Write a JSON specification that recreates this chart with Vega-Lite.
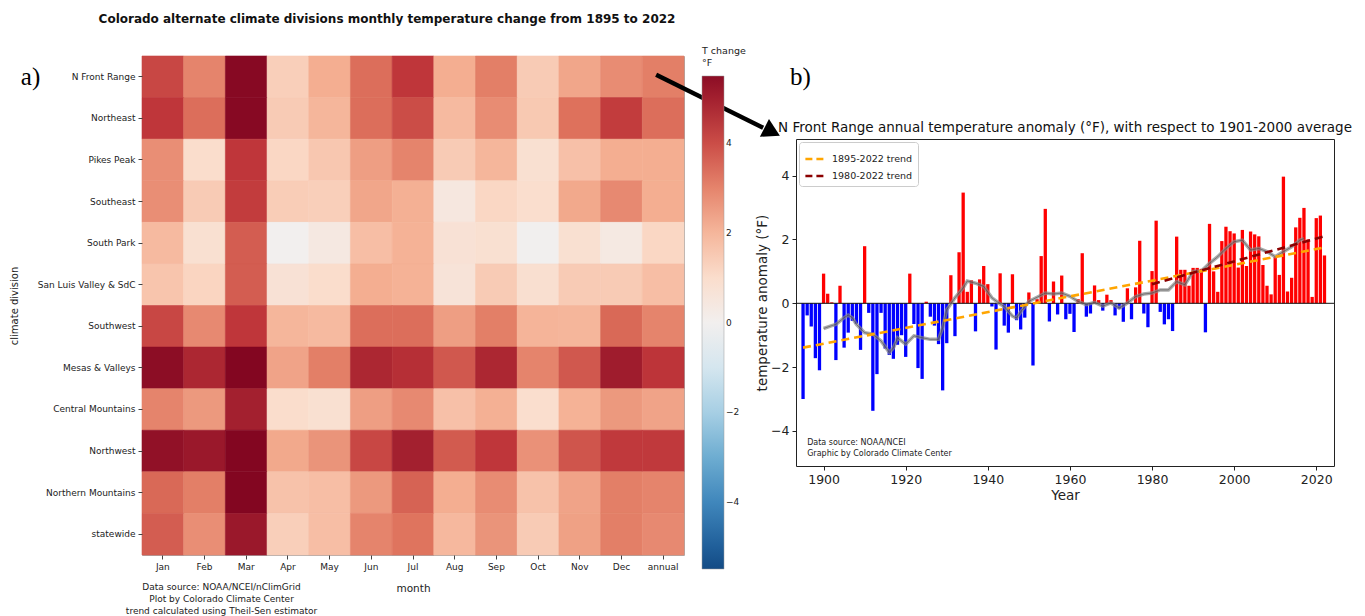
{
"$schema": "https://vega.github.io/schema/vega-lite/v6.json",
"padding": {"left": 8, "top": 12, "right": 0, "bottom": 0},
"background": "white",
"config": {"font": "DejaVu Sans", "view": {"stroke": "#222"}, "axis": {"grid": false, "labelColor": "#222", "titleColor": "#222", "titleFontWeight": "normal", "tickColor": "#444"}, "title": {"color": "#111"}},
"datasets": {
"heat": [
{"division":"N Front Range","Jan":4.1,"Feb":3.0,"Mar":5.6,"Apr":1.4,"May":2.2,"Jun":3.4,"Jul":4.4,"Aug":2.2,"Sep":3.1,"Oct":1.5,"Nov":2.35,"Dec":2.85,"annual":3.1},
{"division":"Northeast","Jan":4.4,"Feb":3.4,"Mar":5.6,"Apr":1.5,"May":2.0,"Jun":3.4,"Jul":4.0,"Aug":1.9,"Sep":2.85,"Oct":1.55,"Nov":3.35,"Dec":4.3,"annual":3.4},
{"division":"Pikes Peak","Jan":2.8,"Feb":1.0,"Mar":4.4,"Apr":1.2,"May":1.6,"Jun":2.5,"Jul":3.0,"Aug":1.5,"Sep":2.0,"Oct":0.85,"Nov":1.75,"Dec":2.2,"annual":2.2},
{"division":"Southeast","Jan":2.8,"Feb":1.5,"Mar":4.3,"Apr":1.45,"May":1.4,"Jun":2.35,"Jul":2.15,"Aug":0.45,"Sep":1.2,"Oct":0.95,"Nov":2.3,"Dec":2.9,"annual":2.2},
{"division":"South Park","Jan":1.9,"Feb":0.85,"Mar":3.7,"Apr":0.0,"May":0.4,"Jun":1.8,"Jul":2.1,"Aug":0.75,"Sep":0.85,"Oct":-0.05,"Nov":0.85,"Dec":0.35,"annual":1.2},
{"division":"San Luis Valley & SdC","Jan":1.65,"Feb":1.25,"Mar":3.7,"Apr":0.75,"May":1.0,"Jun":2.2,"Jul":2.1,"Aug":0.65,"Sep":1.5,"Oct":0.9,"Nov":1.5,"Dec":1.5,"annual":1.8},
{"division":"Southwest","Jan":4.1,"Feb":2.9,"Mar":4.4,"Apr":2.0,"May":1.9,"Jun":3.4,"Jul":3.4,"Aug":2.5,"Sep":3.1,"Oct":2.05,"Nov":2.0,"Dec":3.5,"annual":3.0},
{"division":"Mesas & Valleys","Jan":5.5,"Feb":4.8,"Mar":5.7,"Apr":2.4,"May":3.1,"Jun":4.8,"Jul":4.6,"Aug":3.8,"Sep":4.8,"Oct":3.0,"Nov":3.8,"Dec":5.1,"annual":4.45},
{"division":"Central Mountains","Jan":3.0,"Feb":2.6,"Mar":5.0,"Apr":1.0,"May":0.85,"Jun":2.5,"Jul":2.9,"Aug":1.75,"Sep":2.15,"Oct":0.95,"Nov":2.1,"Dec":2.6,"annual":2.4},
{"division":"Northwest","Jan":5.4,"Feb":5.2,"Mar":5.7,"Apr":2.3,"May":2.7,"Jun":4.1,"Jul":5.0,"Aug":3.75,"Sep":4.4,"Oct":2.75,"Nov":3.85,"Dec":4.35,"annual":4.35},
{"division":"Northern Mountains","Jan":3.5,"Feb":3.1,"Mar":5.7,"Apr":1.7,"May":1.8,"Jun":2.6,"Jul":3.6,"Aug":2.2,"Sep":2.85,"Oct":1.7,"Nov":2.4,"Dec":3.1,"annual":3.0},
{"division":"statewide","Jan":3.7,"Feb":2.8,"Mar":5.2,"Apr":1.4,"May":1.8,"Jun":3.0,"Jul":3.3,"Aug":1.95,"Sep":2.7,"Oct":1.5,"Nov":2.45,"Dec":3.1,"annual":2.9}
],
"anom": [
{"year":1895,"v":-3.0},{"year":1896,"v":-0.38},{"year":1897,"v":-0.73},{"year":1898,"v":-1.72},{"year":1899,"v":-2.1},
{"year":1900,"v":0.93},{"year":1901,"v":0.3},{"year":1902,"v":0.03},{"year":1903,"v":-1.78},{"year":1904,"v":0.55},
{"year":1905,"v":-1.39},{"year":1906,"v":-0.92},{"year":1907,"v":-0.55},{"year":1908,"v":-0.64},{"year":1909,"v":-1.46},
{"year":1910,"v":1.79},{"year":1911,"v":-0.3},{"year":1912,"v":-3.37},{"year":1913,"v":-2.22},{"year":1914,"v":-0.3},
{"year":1915,"v":-1.42},{"year":1916,"v":-1.62},{"year":1917,"v":-1.74},{"year":1918,"v":-1.3},{"year":1919,"v":-1.0},
{"year":1920,"v":-1.68},{"year":1921,"v":0.93},{"year":1922,"v":-0.65},{"year":1923,"v":-2.03},{"year":1924,"v":-2.37},
{"year":1925,"v":0.05},{"year":1926,"v":-0.42},{"year":1927,"v":-0.7},{"year":1928,"v":-1.28},{"year":1929,"v":-2.73},
{"year":1930,"v":-1.25},{"year":1931,"v":0.88},{"year":1932,"v":-1.03},{"year":1933,"v":1.6},{"year":1934,"v":3.47},
{"year":1935,"v":0.36},{"year":1936,"v":0.72},{"year":1937,"v":-0.88},{"year":1938,"v":0.75},{"year":1939,"v":1.17},
{"year":1940,"v":0.6},{"year":1941,"v":-0.1},{"year":1942,"v":-1.45},{"year":1943,"v":0.94},{"year":1944,"v":-0.7},
{"year":1945,"v":-0.92},{"year":1946,"v":0.91},{"year":1947,"v":-0.53},{"year":1948,"v":-0.82},{"year":1949,"v":-0.45},
{"year":1950,"v":0.34},{"year":1951,"v":-1.95},{"year":1952,"v":0.13},{"year":1953,"v":1.48},{"year":1954,"v":2.96},
{"year":1955,"v":-0.57},{"year":1956,"v":0.68},{"year":1957,"v":-0.35},{"year":1958,"v":0.87},{"year":1959,"v":-0.5},
{"year":1960,"v":-0.33},{"year":1961,"v":-0.9},{"year":1962,"v":0.13},{"year":1963,"v":1.57},{"year":1964,"v":-0.42},
{"year":1965,"v":-0.32},{"year":1966,"v":0.56},{"year":1967,"v":0.1},{"year":1968,"v":-0.23},{"year":1969,"v":0.27},
{"year":1970,"v":0.1},{"year":1971,"v":-0.38},{"year":1972,"v":-0.17},{"year":1973,"v":-0.58},{"year":1974,"v":0.47},
{"year":1975,"v":-0.5},{"year":1976,"v":0.5},{"year":1977,"v":1.96},{"year":1978,"v":-0.32},{"year":1979,"v":-0.75},
{"year":1980,"v":1.01},{"year":1981,"v":2.59},{"year":1982,"v":-0.27},{"year":1983,"v":-0.66},{"year":1984,"v":-0.5},
{"year":1985,"v":-0.87},{"year":1986,"v":2.09},{"year":1987,"v":1.05},{"year":1988,"v":1.05},{"year":1989,"v":0.55},
{"year":1990,"v":1.11},{"year":1991,"v":1.11},{"year":1992,"v":1.08},{"year":1993,"v":-0.91},{"year":1994,"v":2.49},
{"year":1995,"v":1.0},{"year":1996,"v":0.36},{"year":1997,"v":1.95},{"year":1998,"v":2.4},{"year":1999,"v":2.26},
{"year":2000,"v":2.19},{"year":2001,"v":1.12},{"year":2002,"v":2.3},{"year":2003,"v":1.17},{"year":2004,"v":2.25},
{"year":2005,"v":2.16},{"year":2006,"v":2.1},{"year":2007,"v":1.2},{"year":2008,"v":0.55},{"year":2009,"v":0.28},
{"year":2010,"v":1.45},{"year":2011,"v":0.89},{"year":2012,"v":3.97},{"year":2013,"v":0.37},{"year":2014,"v":0.8},
{"year":2015,"v":2.38},{"year":2016,"v":2.68},{"year":2017,"v":2.99},{"year":2018,"v":2.0},{"year":2019,"v":0.2},
{"year":2020,"v":2.67},{"year":2021,"v":2.75},{"year":2022,"v":1.5}
],
"smooth": [
{"year":1900,"v":-0.79},{"year":1902,"v":-0.7},{"year":1903,"v":-0.66},{"year":1905,"v":-0.45},{"year":1906,"v":-0.37},
{"year":1907,"v":-0.45},{"year":1908,"v":-0.66},{"year":1910,"v":-0.92},{"year":1912,"v":-0.97},{"year":1914,"v":-1.18},
{"year":1916,"v":-1.54},{"year":1917,"v":-1.4},{"year":1918,"v":-1.08},{"year":1920,"v":-1.28},{"year":1922,"v":-1.02},
{"year":1924,"v":-1.08},{"year":1926,"v":-1.13},{"year":1928,"v":-1.13},{"year":1929,"v":-0.77},{"year":1930,"v":-0.2},
{"year":1932,"v":0.17},{"year":1934,"v":0.48},{"year":1935,"v":0.7},{"year":1937,"v":0.63},{"year":1939,"v":0.53},
{"year":1941,"v":0.17},{"year":1943,"v":-0.02},{"year":1944,"v":-0.1},{"year":1946,"v":-0.4},{"year":1947,"v":-0.46},
{"year":1948,"v":-0.27},{"year":1950,"v":0.06},{"year":1952,"v":0.19},{"year":1954,"v":0.32},{"year":1956,"v":0.29},
{"year":1958,"v":0.32},{"year":1960,"v":0.22},{"year":1962,"v":0.06},{"year":1964,"v":-0.04},{"year":1966,"v":0.03},
{"year":1968,"v":-0.09},{"year":1970,"v":0.01},{"year":1972,"v":-0.15},{"year":1974,"v":0.01},{"year":1976,"v":0.21},
{"year":1978,"v":0.29},{"year":1980,"v":0.32},{"year":1982,"v":0.42},{"year":1984,"v":0.42},{"year":1986,"v":0.68},
{"year":1988,"v":0.58},{"year":1990,"v":1.0},{"year":1992,"v":1.01},{"year":1994,"v":1.25},{"year":1996,"v":1.46},
{"year":1998,"v":1.72},{"year":2000,"v":1.93},{"year":2002,"v":1.98},{"year":2004,"v":1.67},{"year":2006,"v":1.72},
{"year":2008,"v":1.62},{"year":2010,"v":1.46},{"year":2012,"v":1.62},{"year":2014,"v":1.77},{"year":2016,"v":1.98},
{"year":2017,"v":2.03}
],
"trend": [
{"series":"1895-2022 trend","year":1895,"v":-1.39},{"series":"1895-2022 trend","year":2022,"v":1.75},
{"series":"1980-2022 trend","year":1980,"v":0.6},{"series":"1980-2022 trend","year":2022,"v":2.1}
]
},
"spacing": 112,
"bounds": "flush",
"resolve": {"scale": {"color": "independent"}, "legend": {"color": "independent"}},
"hconcat": [
{
"width": 542, "height": 499,
"title": {"text": "Colorado alternate climate divisions monthly temperature change from 1895 to 2022", "fontSize": 12, "fontWeight": "bold", "offset": 20, "dx": -26, "anchor": "middle"},
"view": {"stroke": "#aaa"},
"layer": [
{"data": {"name": "heat"},
"transform": [{"fold": ["Jan","Feb","Mar","Apr","May","Jun","Jul","Aug","Sep","Oct","Nov","Dec","annual"], "as": ["month","change"]}],
"mark": {"type": "rect", "strokeWidth": 0.6},
"encoding": {
"x": {"field": "month", "type": "nominal", "scale": {"domain": ["Jan","Feb","Mar","Apr","May","Jun","Jul","Aug","Sep","Oct","Nov","Dec","annual"], "paddingInner": 0, "paddingOuter": 0}, "axis": {"title": "month", "labelAngle": 0, "labelFontSize": 9, "titleFontSize": 10.5, "tickSize": 4, "domain": false, "labelPadding": 3, "titlePadding": 12}},
"y": {"field": "division", "type": "nominal", "scale": {"domain": ["N Front Range","Northeast","Pikes Peak","Southeast","South Park","San Luis Valley & SdC","Southwest","Mesas & Valleys","Central Mountains","Northwest","Northern Mountains","statewide"], "paddingInner": 0, "paddingOuter": 0}, "axis": {"title": "climate division", "labelFontSize": 9, "titleFontSize": 10, "tickSize": 4, "domain": false, "labelPadding": 3, "titlePadding": 18}},
"color": {"field": "change", "type": "quantitative", "scale": {"scheme": "redblue", "reverse": true, "domain": [-5.5, 5.5]}, "legend": {"orient": "none", "legendX": 560, "legendY": -10, "title": ["T change", "°F"], "titleFontSize": 9.5, "titleFontWeight": "normal", "titleColor": "#222", "titlePadding": 9, "gradientLength": 493, "gradientThickness": 22, "values": [-4, -2, 0, 2, 4], "format": "d", "labelFontSize": 9, "labelColor": "#222", "direction": "vertical", "gradientStrokeColor": "#999", "gradientStrokeWidth": 0.5}},
"stroke": {"field": "change", "type": "quantitative", "scale": {"scheme": "redblue", "reverse": true, "domain": [-5.5, 5.5]}, "legend": null}
}},
{"data": {"values": [{"division": "N Front Range", "month": "Jan", "label": "a)"}]},
"mark": {"type": "text", "align": "left", "baseline": "middle", "font": "Liberation Serif", "fontSize": 25, "dx": -142, "color": "#000"},
"encoding": {"x": {"field": "month", "type": "nominal"}, "y": {"field": "division", "type": "nominal"}, "text": {"field": "label"}}},
{"data": {"values": [{"division": "statewide", "month": "Feb", "label": ["Data source: NOAA/NCEI/nClimGrid", "Plot by Colorado Climate Center", "trend calculated using Theil-Sen estimator"]}]},
"mark": {"type": "text", "align": "center", "baseline": "top", "fontSize": 9, "lineHeight": 12, "dx": 17, "dy": 49, "color": "#222"},
"encoding": {"x": {"field": "month", "type": "nominal"}, "y": {"field": "division", "type": "nominal"}, "text": {"field": "label"}}},
{"data": {"values": [{"division": "N Front Range", "month": "annual"}]},
"mark": {"type": "rule", "color": "#000", "strokeWidth": 4.5, "xOffset": -7, "yOffset": -2, "x2Offset": 100, "y2Offset": 51},
"encoding": {"x": {"field": "month", "type": "nominal"}, "y": {"field": "division", "type": "nominal"}, "x2": {"field": "month"}, "y2": {"field": "division"}}},
{"data": {"values": [{"division": "N Front Range", "month": "annual"}]},
"mark": {"type": "point", "shape": "triangle-right", "filled": true, "color": "#000", "opacity": 1, "size": 400, "angle": 27, "xOffset": 109, "yOffset": 55},
"encoding": {"x": {"field": "month", "type": "nominal"}, "y": {"field": "division", "type": "nominal"}}}
]
},
{
"spacing": 20,
"bounds": "flush",
"resolve": {"scale": {"color": "independent"}, "legend": {"color": "independent"}},
"vconcat": [
{"width": 538, "height": 63, "view": {"stroke": null},
"data": {"values": [{"label": "b)"}]},
"mark": {"type": "text", "align": "left", "baseline": "middle", "font": "Liberation Serif", "fontSize": 25, "dx": -6, "color": "#000"},
"encoding": {"x": {"datum": 0, "type": "quantitative", "scale": {"domain": [0, 1]}, "axis": null}, "y": {"datum": 0.66, "type": "quantitative", "scale": {"domain": [0, 1]}, "axis": null}, "text": {"field": "label"}}},
{"width": 538, "height": 327,
"title": {"text": "N Front Range annual temperature anomaly (°F), with respect to 1901-2000 average", "fontSize": 13.5, "fontWeight": "normal", "offset": 5, "anchor": "middle", "color": "#111"},
"layer": [
{"data": {"name": "anom"},
"mark": {"type": "bar", "size": 3.3},
"encoding": {
"x": {"field": "year", "type": "quantitative", "scale": {"domain": [1894.5, 2023.1], "nice": false, "zero": false}, "axis": {"title": "Year", "values": [1900, 1920, 1940, 1960, 1980, 2000, 2020], "format": "d", "labelFontSize": 12.5, "titleFontSize": 13.5, "domain": false, "tickSize": 4, "tickColor": "#222", "labelPadding": 3, "titlePadding": 3}},
"y": {"field": "v", "type": "quantitative", "scale": {"domain": [-5.1, 5.15], "nice": false}, "axis": {"title": "temperature anomaly (°F)", "values": [-4, -2, 0, 2, 4], "format": "d", "labelFontSize": 12.5, "titleFontSize": 13.5, "domain": false, "tickSize": 4, "tickColor": "#222", "labelPadding": 3, "titlePadding": 1}},
"color": {"condition": {"test": "datum.v > 0", "value": "#ff0000"}, "value": "#0000ff"}
}},
{"data": {"values": [{}]},
"mark": {"type": "rule", "color": "#111", "strokeWidth": 1},
"encoding": {"y": {"datum": 0}}},
{"data": {"name": "smooth"},
"mark": {"type": "line", "color": "#888", "strokeWidth": 3.5, "opacity": 0.7},
"encoding": {"x": {"field": "year", "type": "quantitative"}, "y": {"field": "v", "type": "quantitative"}}},
{"data": {"name": "smooth"},
"mark": {"type": "line", "color": "#333", "strokeWidth": 1, "opacity": 0.45},
"encoding": {"x": {"field": "year", "type": "quantitative"}, "y": {"field": "v", "type": "quantitative"}}},
{"data": {"name": "trend"},
"mark": {"type": "line", "strokeWidth": 2.6, "strokeDash": [8, 5]},
"encoding": {"x": {"field": "year", "type": "quantitative"}, "y": {"field": "v", "type": "quantitative"},
"color": {"field": "series", "type": "nominal", "scale": {"domain": ["1895-2022 trend", "1980-2022 trend"], "range": ["#ffa500", "#8b0000"]},
"legend": {"orient": "top-left", "title": null, "symbolType": "stroke", "symbolStrokeWidth": 2.5, "symbolDash": [7, 4], "symbolSize": 450, "labelFontSize": 9.5, "labelColor": "#222", "padding": 5, "strokeColor": "#ccc", "fillColor": "white", "cornerRadius": 3, "offset": 3, "rowPadding": -7}}}},
{"data": {"values": [{"label": ["Data source: NOAA/NCEI", "Graphic by Colorado Climate Center"]}]},
"mark": {"type": "text", "align": "left", "baseline": "top", "fontSize": 8, "lineHeight": 11, "color": "#222"},
"encoding": {"x": {"datum": 1896}, "y": {"datum": -4.25}, "text": {"field": "label"}}}
]
}
]
}
]
}
